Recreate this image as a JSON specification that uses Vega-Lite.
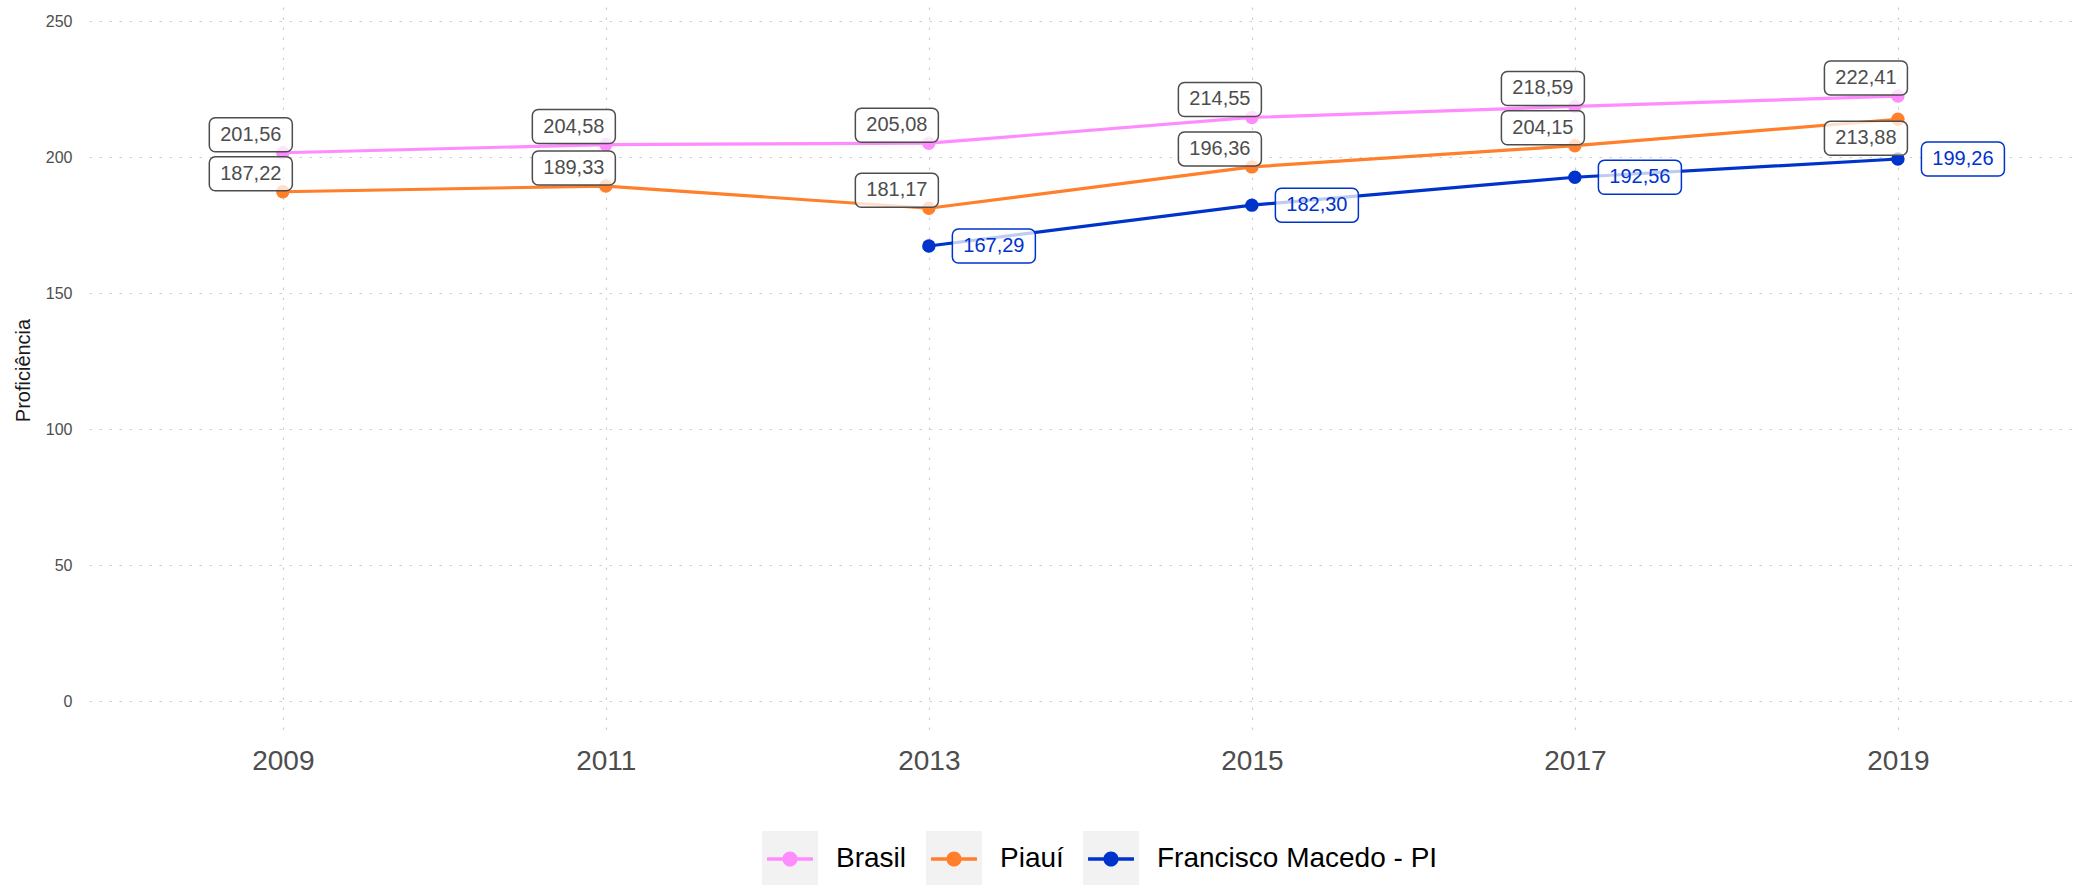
{
  "$schema": "https://vega.github.io/schema/vega-lite/v6.json",
  "autosize": {"type": "none"},
  "width": 1989,
  "height": 726,
  "padding": {"left": 89, "top": 7, "right": 2, "bottom": 152},
  "background": "white",
  "config": {
    "view": {"stroke": null},
    "font": "Liberation Sans",
    "locale": {"number": {"decimal": ",", "thousands": ".", "grouping": [3], "currency": ["R$", ""]}}
  },
  "data": {
    "values": [
      {"ano": 2009, "serie": "Brasil", "valor": 201.56},
      {"ano": 2011, "serie": "Brasil", "valor": 204.58},
      {"ano": 2013, "serie": "Brasil", "valor": 205.08},
      {"ano": 2015, "serie": "Brasil", "valor": 214.55},
      {"ano": 2017, "serie": "Brasil", "valor": 218.59},
      {"ano": 2019, "serie": "Brasil", "valor": 222.41},
      {"ano": 2009, "serie": "Piauí", "valor": 187.22},
      {"ano": 2011, "serie": "Piauí", "valor": 189.33},
      {"ano": 2013, "serie": "Piauí", "valor": 181.17},
      {"ano": 2015, "serie": "Piauí", "valor": 196.36},
      {"ano": 2017, "serie": "Piauí", "valor": 204.15},
      {"ano": 2019, "serie": "Piauí", "valor": 213.88},
      {"ano": 2013, "serie": "Francisco Macedo - PI", "valor": 167.29},
      {"ano": 2015, "serie": "Francisco Macedo - PI", "valor": 182.30},
      {"ano": 2017, "serie": "Francisco Macedo - PI", "valor": 192.56},
      {"ano": 2019, "serie": "Francisco Macedo - PI", "valor": 199.26}
    ]
  },
  "encoding": {
    "x": {
      "field": "ano", "type": "quantitative",
      "scale": {"domain": [2007.8, 2020.115], "nice": false, "zero": false},
      "axis": {
        "values": [2009, 2011, 2013, 2015, 2017, 2019], "format": "d", "title": null,
        "domain": false, "ticks": false, "tickSize": 0, "labelPadding": 14,
        "labelFontSize": 28, "labelColor": "#4d4d4d", "labelFont": "Liberation Sans",
        "grid": true, "gridColor": "#cfcfcf", "gridWidth": 1.2, "gridDash": [2.5, 7.5]
      }
    },
    "y": {
      "field": "valor", "type": "quantitative",
      "scale": {"domain": [-11.76, 255.15], "nice": false, "zero": false},
      "axis": {
        "values": [0, 50, 100, 150, 200, 250], "title": "Proficiência",
        "titleFontSize": 20, "titleFontWeight": "normal", "titleColor": "#1a1a1a", "titlePadding": 12,
        "domain": false, "ticks": false, "tickSize": 0, "labelPadding": 17,
        "labelFontSize": 16, "labelColor": "#4d4d4d",
        "grid": true, "gridColor": "#cfcfcf", "gridWidth": 1.2, "gridDash": [2.5, 7.5]
      }
    }
  },
  "layer": [
    {
      "mark": {"type": "line", "strokeWidth": 3.2},
      "encoding": {
        "stroke": {"field": "serie", "type": "nominal",
          "sort": {"field": "valor", "op": "max", "order": "descending"},
          "scale": {"range": ["#ff8cff", "#ff7f2a", "#0033cc"]},
          "legend": null}
      }
    },
    {
      "mark": {"type": "point", "filled": true, "size": 180, "opacity": 1},
      "encoding": {
        "color": {"field": "serie", "type": "nominal",
          "scale": {"domain": ["Brasil", "Piauí", "Francisco Macedo - PI"], "range": ["#ff8cff", "#ff7f2a", "#0033cc"]},
          "legend": {
            "title": null, "orient": "none", "legendX": 673, "legendY": 824, "direction": "horizontal",
            "zindex": 1, "padding": 0, "symbolSize": 3136, "labelFontSize": 28, "labelColor": "#000000",
            "labelLimit": 500, "labelOffset": 18, "columnPadding": 19, "symbolOpacity": 1, "symbolStrokeWidth": 0,
            "symbolType": "M-0.82,-0.06 L-0.26,-0.06 L-0.26,0.06 L-0.82,0.06 Z M0.26,-0.06 L0.82,-0.06 L0.82,0.06 L0.26,0.06 Z M-0.27,0 A0.27,0.27 0 1,1 0.27,0 A0.27,0.27 0 1,1 -0.27,0 Z"
          }
        }
      }
    },
    {
      "mark": {"type": "point", "filled": true, "size": 0, "color": "#f2f2f2", "opacity": 1},
      "encoding": {
        "shape": {"field": "serie", "type": "nominal",
          "sort": {"field": "valor", "op": "mean", "order": "descending"},
          "scale": {"range": ["square", "square", "square"]},
          "legend": {
            "title": null, "orient": "none", "legendX": 673, "legendY": 824, "direction": "horizontal",
            "zindex": 0, "padding": 0, "symbolSize": 3136, "labelFontSize": 28, "labelOpacity": 0,
            "labelLimit": 500, "labelOffset": 18, "columnPadding": 19, "symbolOpacity": 1, "symbolFillColor": "#f2f2f2",
            "symbolStrokeColor": "#f2f2f2", "symbolStrokeWidth": 0
          }
        }
      }
    },
    {
      "transform": [{"filter": "datum.serie == 'Brasil' || (datum.serie == 'Piauí' && datum.ano != 2019)"}],
      "mark": {"type": "rect", "width": 83, "height": 34, "xOffset": -32, "yOffset": -18, "cornerRadius": 6,
        "fill": "white", "fillOpacity": 0.75, "stroke": "#4d4d4d", "strokeWidth": 1.5}
    },
    {
      "transform": [{"filter": "datum.serie == 'Piauí' && datum.ano == 2019"}],
      "mark": {"type": "rect", "width": 83, "height": 34, "xOffset": -32, "yOffset": 19, "cornerRadius": 6,
        "fill": "white", "fillOpacity": 0.75, "stroke": "#4d4d4d", "strokeWidth": 1.5}
    },
    {
      "transform": [{"filter": "datum.serie == 'Francisco Macedo - PI'"}],
      "mark": {"type": "rect", "width": 83, "height": 34, "xOffset": 65, "yOffset": 0, "cornerRadius": 6,
        "fill": "white", "fillOpacity": 0.75, "stroke": "#0033cc", "strokeWidth": 1.5}
    },
    {
      "transform": [{"filter": "datum.serie == 'Brasil' || (datum.serie == 'Piauí' && datum.ano != 2019)"}],
      "mark": {"type": "text", "dx": -32, "dy": -18, "fontSize": 20, "color": "#4d4d4d", "align": "center", "baseline": "middle"},
      "encoding": {"text": {"field": "valor", "type": "quantitative", "format": ".2f"}}
    },
    {
      "transform": [{"filter": "datum.serie == 'Piauí' && datum.ano == 2019"}],
      "mark": {"type": "text", "dx": -32, "dy": 19, "fontSize": 20, "color": "#4d4d4d", "align": "center", "baseline": "middle"},
      "encoding": {"text": {"field": "valor", "type": "quantitative", "format": ".2f"}}
    },
    {
      "transform": [{"filter": "datum.serie == 'Francisco Macedo - PI'"}],
      "mark": {"type": "text", "dx": 65, "dy": 0, "fontSize": 20, "color": "#0033cc", "align": "center", "baseline": "middle"},
      "encoding": {"text": {"field": "valor", "type": "quantitative", "format": ".2f"}}
    }
  ]
}
